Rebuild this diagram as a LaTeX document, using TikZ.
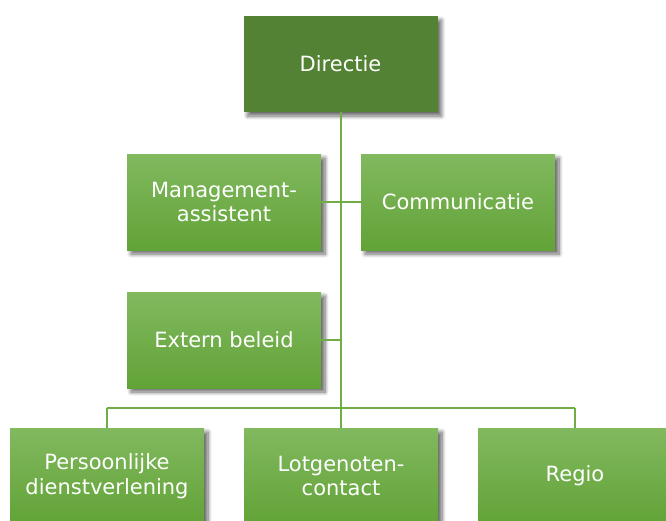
\documentclass[tikz,border=0pt]{standalone}
\usepackage{fontspec}
\setmainfont{DejaVu Sans}
\usetikzlibrary{shadows.blur}
\definecolor{darkgreen}{RGB}{84,130,53}
\definecolor{topgreen}{RGB}{129,185,95}
\definecolor{botgreen}{RGB}{98,163,55}
\definecolor{linegreen}{RGB}{112,173,71}
\tikzset{
  orgbox/.style={rectangle, minimum width=194pt, minimum height=96pt, inner sep=0pt,
    text=white, align=center, font=\fontsize{21}{24.5}\selectfont,
    blur shadow={shadow xshift=4pt, shadow yshift=-4pt, shadow blur steps=8, shadow opacity=60, shadow blur radius=4pt}},
  topbox/.style={orgbox, fill=darkgreen},
  subbox/.style={orgbox, top color=topgreen, bottom color=botgreen},
  conn/.style={draw=linegreen, line width=1.3pt}
}
\begin{document}
\begin{tikzpicture}[x=1pt,y=-1pt]
\useasboundingbox (0,0) rectangle (666,520);
\node[topbox] (dir) at (340.5,64) {Directie};
\node[subbox] (mgmt) at (224,202) {Management-\\assistent};
\node[subbox] (comm) at (458,202) {Communicatie};
\node[subbox] (ext) at (224,340) {Extern beleid};
\node[subbox] (pers) at (107,476) {Persoonlijke\\dienstverlening};
\node[subbox] (lotg) at (341,476) {Lotgenoten-\\contact};
\node[subbox] (regio) at (575,476) {Regio};
\coordinate (bus) at (341,408);
\coordinate (busl) at (107,408);
\coordinate (busr) at (575,408);
\draw[conn] (dir.south -| bus) -- (bus);
\draw[conn] (mgmt.east) -- (comm.west);
\draw[conn] (ext.east) -- (ext.east -| bus);
\draw[conn] (busl) -- (busr);
\draw[conn] (busl) -- (pers.north);
\draw[conn] (bus) -- (lotg.north);
\draw[conn] (busr) -- (regio.north);
\end{tikzpicture}
\end{document}
